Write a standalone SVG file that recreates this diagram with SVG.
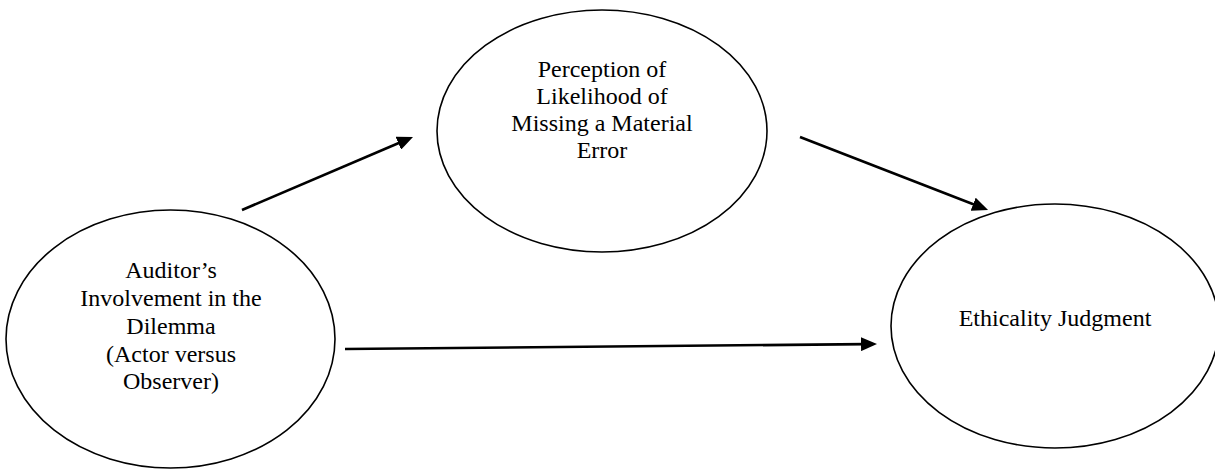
<svg xmlns="http://www.w3.org/2000/svg" width="1215" height="470" viewBox="0 0 1215 470">
<style>
.node ellipse{fill:#fff;stroke:#000;stroke-width:1.6}
.node text{font-family:"Liberation Serif","Times New Roman",serif;font-size:24px;fill:#000;text-anchor:middle}
.conn line{stroke:#000;stroke-width:2.6;fill:none}
</style>
<defs>
<marker id="ah" markerUnits="userSpaceOnUse" markerWidth="16" markerHeight="14" refX="5" refY="7" orient="auto">
<path d="M0,0 L16,7 L0,14 z" fill="#000"/>
</marker>
</defs>
<rect width="1215" height="470" fill="#fff"/>
<g id="node-involvement" class="node">
<ellipse cx="170.5" cy="339" rx="164.5" ry="129"/>
<text x="171" y="278">Auditor’s</text>
<text x="171" y="306">Involvement in the</text>
<text x="171" y="333.5">Dilemma</text>
<text x="171" y="361.5">(Actor versus</text>
<text x="171" y="389">Observer)</text>
</g>
<g id="node-perception" class="node">
<ellipse cx="602" cy="131" rx="165" ry="121"/>
<text x="602" y="77">Perception of</text>
<text x="602" y="104">Likelihood of</text>
<text x="602" y="131">Missing a Material</text>
<text x="602" y="158">Error</text>
</g>
<g id="node-judgment" class="node">
<ellipse cx="1055" cy="326" rx="164" ry="122"/>
<text x="1055" y="326">Ethicality Judgment</text>
</g>
<g id="connectors" class="conn">
<line x1="242" y1="210" x2="402.9" y2="141.3" marker-end="url(#ah)"/>
<line x1="800" y1="137" x2="977.8" y2="206" marker-end="url(#ah)"/>
<line x1="345" y1="349" x2="866" y2="344.1" marker-end="url(#ah)"/>
</g>
</svg>
